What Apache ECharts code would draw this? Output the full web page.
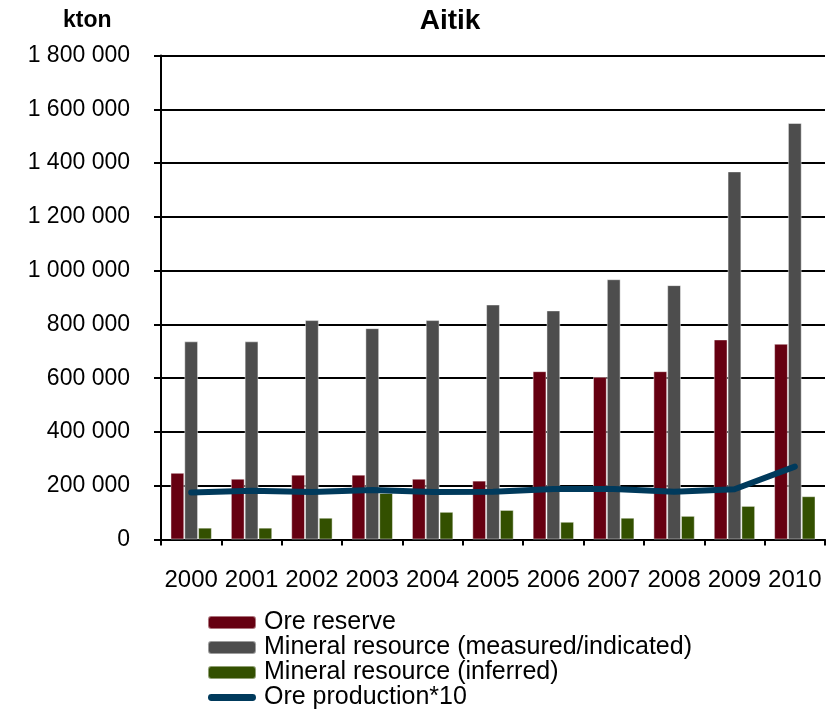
<!DOCTYPE html>
<html>
<head>
<meta charset="utf-8">
<script src="https://cdn.jsdelivr.net/npm/echarts@6/dist/echarts.min.js"></script>
<style>
  html, body { margin: 0; padding: 0; background: #fff; }
  #main { width: 836px; height: 714px; }
</style>
</head>
<body>
<div id="main"></div>
<script>
// 数据
var years = ["2000", "2001", "2002", "2003", "2004", "2005", "2006", "2007", "2008", "2009", "2010"];
var oreReserve = [248000, 226000, 241000, 241000, 226000, 219000, 626000, 605000, 626000, 744000, 728000];
var measIndicated = [737000, 737000, 816000, 786000, 816000, 874000, 852000, 968000, 946000, 1369000, 1549000];
var inferred = [44000, 44000, 81000, 173000, 103000, 110000, 66000, 81000, 88000, 125000, 161000];
var production10 = [175000, 181000, 177000, 184000, 177000, 178000, 188000, 188000, 178000, 187000, 271000];

var seriesNames = [
  "Ore reserve",
  "Mineral resource (measured/indicated)",
  "Mineral resource (inferred)",
  "Ore production*10"
];

function fmtSpace(v) {
  return String(v).replace(/\B(?=(\d{3})+(?!\d))/g, " ");
}

var chart = echarts.init(document.getElementById("main"));
var font = "Liberation Sans, Arial, sans-serif";

var option = {
  animation: false,
  backgroundColor: "#fff",
  textStyle: { fontFamily: font, color: "#000" },
  title: [
    {
      text: "Aitik",
      left: 450,
      textAlign: "center",
      top: 7,
      padding: 0,
      textStyle: { fontSize: 28, fontWeight: "bold", color: "#000", fontFamily: font }
    },
    {
      text: "kton",
      left: 63,
      top: 9,
      padding: 0,
      textStyle: { fontSize: 23, fontWeight: "bold", color: "#000", fontFamily: font }
    }
  ],
  legend: {
    orient: "vertical",
    left: 207,
    top: 610,
    padding: 0,
    itemWidth: 48,
    itemHeight: 13,
    itemGap: 0,
    textStyle: { fontSize: 25, lineHeight: 25, color: "#000", fontFamily: font, padding: [0, 0, 0, 3] },
    data: [
      seriesNames[0],
      seriesNames[1],
      seriesNames[2],
      { name: seriesNames[3], icon: "path://M4,0H52A4,4,0,0,1,52,8H4A4,4,0,0,1,4,0Z" }
    ]
  },
  grid: { left: 161, right: 11, top: 55.5, bottom: 174.5 },
  xAxis: {
    type: "category",
    data: years,
    axisLine: { lineStyle: { color: "#000", width: 2 } },
    axisTick: { show: true, length: 6, lineStyle: { color: "#000", width: 2 } },
    axisLabel: { interval: 0, fontSize: 24, color: "#000", margin: 29, fontFamily: font }
  },
  yAxis: {
    type: "value",
    min: 0,
    max: 1800000,
    interval: 200000,
    axisLine: { show: true, lineStyle: { color: "#000", width: 2 } },
    axisTick: { show: true, length: 7, lineStyle: { color: "#000", width: 2 } },
    axisLabel: { fontSize: 23, color: "#000", margin: 31, fontFamily: font, formatter: fmtSpace },
    splitLine: { lineStyle: { color: "#000", width: 2 } }
  },
  series: [
    {
      name: seriesNames[0],
      type: "bar",
      data: oreReserve,
      barWidth: 13.8,
      barGap: "0%",
      itemStyle: { color: "#660011", borderColor: "rgba(255,255,255,0.45)", borderWidth: 1 }
    },
    {
      name: seriesNames[1],
      type: "bar",
      data: measIndicated,
      barWidth: 13.8,
      barGap: "0%",
      itemStyle: { color: "#4d4d4d", borderColor: "rgba(255,255,255,0.45)", borderWidth: 1 }
    },
    {
      name: seriesNames[2],
      type: "bar",
      data: inferred,
      barWidth: 13.8,
      barGap: "0%",
      itemStyle: { color: "#335000", borderColor: "rgba(255,255,255,0.45)", borderWidth: 1 }
    },
    {
      name: seriesNames[3],
      type: "line",
      data: production10,
      symbol: "none",
      z: 5,
      lineStyle: { color: "#003a5c", width: 6, cap: "round", join: "round" },
      itemStyle: { color: "#003a5c" }
    }
  ]
};

chart.setOption(option);
</script>
</body>
</html>
